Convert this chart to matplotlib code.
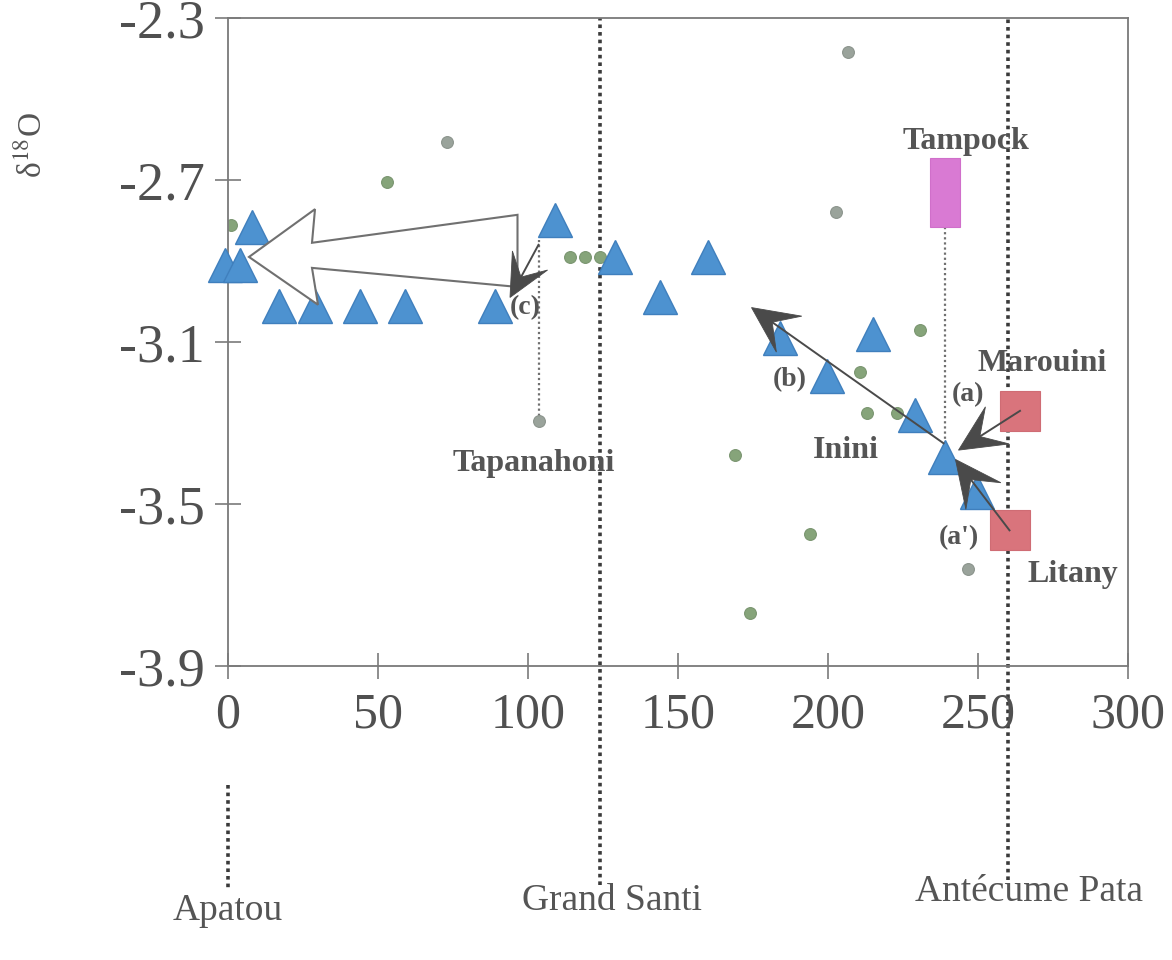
import matplotlib
matplotlib.use("Agg")
import matplotlib.pyplot as plt
import matplotlib.transforms as mtransforms
from matplotlib.patches import Polygon
import numpy as np

plt.rcParams["font.family"] = ["Liberation Serif", "DejaVu Serif"]
plt.rcParams["mathtext.fontset"] = "stix"
plt.rcParams["axes.unicode_minus"] = False

# ---- data: distance along the river (km) and delta-18O (permil) ----
main_dist = [-1, 4, 8, 17, 29, 44, 59, 89, 109, 129, 144, 160, 184, 215, 199.5, 229, 239, 249.5]
main_d18o = [-2.91, -2.91, -2.815, -3.01, -3.01, -3.01, -3.01, -3.01, -2.80, -2.89,
             -2.99, -2.89, -3.09, -3.08, -3.185, -3.28, -3.385, -3.47]

green_dist = [1, 53, 114, 119, 124, 230.5, 210.5, 213, 223, 169, 194, 174]
green_d18o = [-2.81, -2.705, -2.89, -2.89, -2.89, -3.07, -3.175, -3.275, -3.275,
              -3.38, -3.575, -3.77]
grey_dist = [73, 206.5, 202.5, 103.5, 246.5]
grey_d18o = [-2.605, -2.385, -2.78, -3.295, -3.66]

# tributaries sampled near their confluence
trib_names = ["Marouini", "Litany"]
trib_dist = [264, 260.5]
trib_d18o = [-3.27, -3.565]
tampock_dist = 239
tampock_range = [-2.815, -2.645]
tapanahoni_dist = 103.5
tapanahoni_d18o = -3.295

towns = ["Apatou", "Grand Santi", "Antécume Pata"]
town_dist = [0, 124, 260]

x_ticks = [0, 50, 100, 150, 200, 250, 300]
y_ticks = [-2.3, -2.7, -3.1, -3.5, -3.9]

# ---- figure ----
fig = plt.figure(figsize=(11.72, 9.6), dpi=100)
ax = fig.add_axes([228 / 1172, 1 - 666 / 960, 900 / 1172, 648 / 960])
ax.set_xlim(0, 300)
ax.set_ylim(-3.9, -2.3)

spine_col = "#7a7a7a"
for s in ax.spines.values():
    s.set_color(spine_col)
    s.set_linewidth(1.3)
ax.set_xticks(x_ticks)
ax.set_yticks(y_ticks)
ax.set_xticklabels([str(v) for v in x_ticks])
ax.set_yticklabels(["%.1f" % v for v in y_ticks])
ax.tick_params(axis="both", direction="inout", length=19, width=1.2,
               color=spine_col, labelcolor="#505050")
ax.tick_params(axis="y", pad=7, labelsize=39)
ax.tick_params(axis="x", pad=9, labelsize=36)

fig.text(33 / 1172, 1 - 145 / 960, "δ$^{18}$O", rotation=90, fontsize=24,
         color="#555555", ha="center", va="center")

# town reference lines, running below the axis
blend = mtransforms.blended_transform_factory(ax.transData, ax.transAxes)
dot_style = dict(color="#3a3a3a", lw=2.6, linestyle=(0, (1, 1.1)), clip_on=False, zorder=1)
town_line_y = [(-0.184, -0.346), (-0.338, 1.0), (-0.33, 1.0)]
town_label_pos = [(0, -0.378), (128, -0.363), (267, -0.349)]
for name, d, (y0, y1), (lx, ly) in zip(towns, town_dist, town_line_y, town_label_pos):
    ax.plot([d, d], [y0, y1], transform=blend, **dot_style)
    ax.text(lx, ly, name, transform=blend, ha="center", va="center",
            fontsize=27, color="#555555")

# tributary connectors
thin_dot = dict(color="#707070", lw=1.6, linestyle=(0, (1, 1.3)), zorder=1)
ax.plot([tapanahoni_dist, tapanahoni_dist], [tapanahoni_d18o, -2.848], **thin_dot)
ax.plot([tampock_dist, tampock_dist], [tampock_range[0], -3.355], **thin_dot)

# samples
ax.plot(green_dist, green_d18o, "o", ms=8.5, color="#86a47a", mec="#7a9570",
        mew=0.8, zorder=2)
ax.plot(grey_dist, grey_d18o, "o", ms=8.5, color="#9aa39b", mec="#8b948c",
        mew=0.8, zorder=2)
ax.plot(main_dist, main_d18o, "^", ms=25, color="#4d92d0", mec="#3f7fbd",
        mew=1.0, zorder=3, clip_on=False)
ax.plot(trib_dist, trib_d18o, "s", ms=28.5, color="#d9747c", mec="#cf6c74",
        mew=0.8, zorder=3)
ax.bar(tampock_dist, tampock_range[1] - tampock_range[0], bottom=tampock_range[0],
       width=10, color="#d97ad3", edgecolor="#d06fca", lw=0.8, zorder=3)

# hollow arrow: downstream evolution from (c) towards Apatou
tip_x, head_x, tail_x = 7, 29, 96.5
tip_y, shaft_y, tail_y = -2.89, -2.886, -2.875
head_h, shaft_h, tail_h = 0.118, 0.031, 0.089
hollow = [(tip_x, tip_y), (head_x, tip_y + head_h), (head_x - 1, shaft_y + shaft_h),
          (tail_x, tail_y + tail_h), (tail_x, tail_y - tail_h),
          (head_x - 1, shaft_y - shaft_h), (head_x + 1, tip_y - head_h)]
ax.add_patch(Polygon(hollow, closed=True, fc="white", ec="#707070", lw=1.5, zorder=5))


def stealth_arrow(tail, tip, length=45, half_width=21, notch=0.45, color="#4a4a4a"):
    """Line from tail to tip with a concave dark head, sized in pixels."""
    T = ax.transData
    p0 = T.transform(tail)
    p1 = T.transform(tip)
    u = (p1 - p0) / np.hypot(*(p1 - p0))
    n = np.array([-u[1], u[0]])
    base = p1 - u * length
    inner = p1 - u * length * (1 - notch)
    pts = T.inverted().transform([p1, base + n * half_width, inner, base - n * half_width])
    ax.plot([tail[0], pts[2][0]], [tail[1], pts[2][1]], color=color, lw=1.4, zorder=6)
    ax.add_patch(Polygon(pts, closed=True, fc=color, ec=color, lw=0.6, zorder=6))


stealth_arrow((tapanahoni_dist, -2.86), (94, -2.99), length=42, half_width=20)
stealth_arrow((238.5, -3.35), (174.5, -3.015), length=46, half_width=22)
stealth_arrow((trib_dist[0], trib_d18o[0]), (243.5, -3.367), length=46, half_width=22)
stealth_arrow((trib_dist[1], trib_d18o[1]), (242.5, -3.39), length=46, half_width=22)

# labels
name_lab = dict(fontsize=23, fontweight="bold", color="#555555", ha="center",
                va="center", zorder=7)
tag_lab = dict(name_lab, fontsize=20)
ax.text(246, -2.604, "Tampock", **name_lab)
ax.text(271.5, -3.152, "Marouini", **name_lab)
ax.text(281.5, -3.675, "Litany", **name_lab)
ax.text(206, -3.367, "Inini", **name_lab)
ax.text(102, -3.401, "Tapanahoni", **name_lab)
ax.text(246.7, -3.231, "(a)", **tag_lab)
ax.text(243.5, -3.584, "(a')", **tag_lab)
ax.text(187.3, -3.194, "(b)", **tag_lab)
ax.text(99, -3.014, "(c)", **tag_lab)

fig.savefig("out.png", dpi=100)
